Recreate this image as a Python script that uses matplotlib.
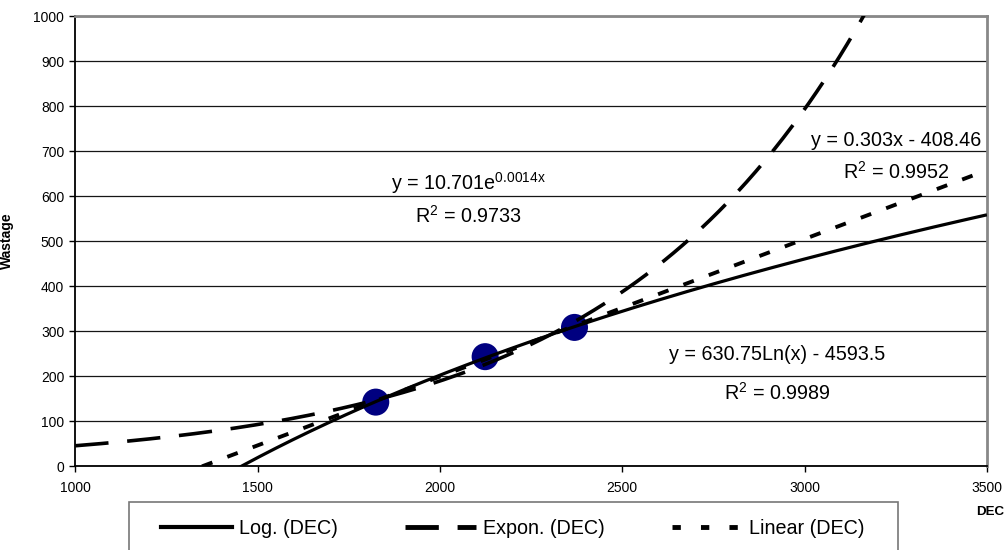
#!/usr/bin/env python3
import numpy as np
import matplotlib
matplotlib.use("Agg")
import matplotlib.pyplot as plt
from matplotlib.lines import Line2D
from matplotlib.patches import Rectangle

dec = [1824, 2124, 2369]
wastage = [142, 243, 308]

# trendline labels as printed on the chart
exp_label = ["y = 10.701e$^{0.0014x}$", "R$^2$ = 0.9733"]
lin_label = ["y = 0.303x - 408.46", "R$^2$ = 0.9952"]
log_label = ["y = 630.75Ln(x) - 4593.5", "R$^2$ = 0.9989"]

legend_names = ["Log. (DEC)", "Expon. (DEC)", "Linear (DEC)"]

x_ticks = [1000, 1500, 2000, 2500, 3000, 3500]
y_ticks = list(range(0, 1001, 100))

plt.rcParams['font.family'] = ['Liberation Sans', 'DejaVu Sans']
plt.rcParams['mathtext.fontset'] = 'custom'
plt.rcParams['mathtext.rm'] = 'Liberation Sans'
plt.rcParams['mathtext.default'] = 'regular'
plt.rcParams['lines.scale_dashes'] = False

fig = plt.figure(figsize=(10.05, 5.5), dpi=100)
ax = fig.add_axes([0.0749, 0.1527, 0.9071, 0.8182])

# Excel-style trendlines fitted to the three points
x = np.array(dec, dtype=float)
y = np.array(wastage, dtype=float)
lin_m, lin_c = np.polyfit(x, y, 1)
log_a, log_b = np.polyfit(np.log(x), y, 1)
exp_b, exp_lna = np.polyfit(x, np.log(y), 1)

xs = np.linspace(1000, 3500, 600)
ax.scatter(dec, wastage, s=27 ** 2 * 0.52, color='#000080', zorder=3, edgecolors='none')
ax.plot(xs, log_a * np.log(xs) + log_b, color='black', lw=2.3, zorder=4,
        solid_capstyle='butt')
ax.plot(xs, np.exp(exp_lna) * np.exp(exp_b * xs), color='black', lw=2.6,
        dashes=(24, 13.5), zorder=4)
ax.plot(xs, lin_m * xs + lin_c, color='black', lw=2.8, dashes=(8, 11.5), zorder=4)

ax.set_xlim(1000, 3500)
ax.set_ylim(0, 1000)
ax.set_xticks(x_ticks)
ax.set_yticks(y_ticks)
ax.tick_params(labelsize=10, length=4, width=1, pad=4, colors='black')
ax.tick_params(axis='x', pad=7)
ax.yaxis.grid(True, color='#151515', lw=0.9)
ax.set_axisbelow(True)
for s in ['left', 'bottom']:
    ax.spines[s].set_color('black')
    ax.spines[s].set_linewidth(1.3)
for s in ['top', 'right']:
    ax.spines[s].set_color('#888888')
    ax.spines[s].set_linewidth(2)

ax.set_ylabel("Wastage", fontsize=10, fontweight='bold', labelpad=14)
fig.text(990 / 1005, 1 - 512 / 550, "DEC", fontsize=9.6, fontweight='bold',
         ha='center', va='center')

# equation labels
eq_fs = 14.2
ax.text(2077, 629, exp_label[0], fontsize=eq_fs, ha='center', va='center')
ax.text(2077, 557, exp_label[1], fontsize=eq_fs, ha='center', va='center')
ax.text(3251, 723, lin_label[0], fontsize=eq_fs, ha='center', va='center')
ax.text(3251, 653, lin_label[1], fontsize=eq_fs, ha='center', va='center')
ax.text(2925, 248, log_label[0], fontsize=eq_fs, ha='center', va='center')
ax.text(2925, 163, log_label[1], fontsize=eq_fs, ha='center', va='center')

# legend box (cut off by the bottom of the image)
fig.patches.append(Rectangle((128.7 / 1005, -0.05), (898 - 128.7) / 1005, 0.05 + 48.3 / 550,
                             transform=fig.transFigure, fill=False,
                             edgecolor='#777777', lw=1.2))
handles = [
    Line2D([], [], color='black', lw=3),
    Line2D([], [], color='black', lw=3.5, dashes=(24, 13.5)),
    Line2D([], [], color='black', lw=3.5, dashes=(6, 14.5)),
]
fig.legend(handles, legend_names, ncol=3, frameon=False, fontsize=14.2,
           loc='center', bbox_to_anchor=(513 / 1005, 22 / 550),
           handlelength=3.6, handletextpad=0.35, columnspacing=3.4)

fig.savefig("out.png", dpi=100)
